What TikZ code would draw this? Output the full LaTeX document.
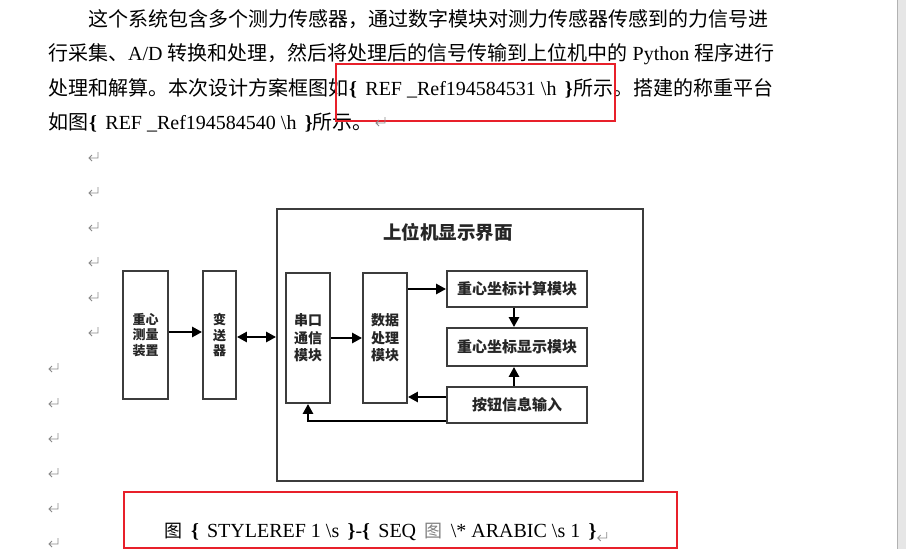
\documentclass[tikz,border=0pt]{standalone}
\usepackage{fontspec}
\setmainfont{Liberation Serif}
\newfontfamily\cjk{Noto Sans CJK SC}
\usetikzlibrary{arrows.meta,calc}
\definecolor{redbox}{HTML}{E8202A}
\definecolor{boxline}{HTML}{3C3C3C}
\definecolor{markgray}{HTML}{8A8A8A}
\definecolor{sidebar}{HTML}{E6E6E6}
\newcommand\zh[1]{{\cjk #1}}
\begin{document}
\begin{tikzpicture}[x=1pt,y=-1pt,
  txt/.style={anchor=base west, inner sep=0pt, font=\fontsize{20}{20}\selectfont},
  txtr/.style={anchor=base east, inner sep=0pt, font=\fontsize{20}{20}\selectfont},
  blk/.style={draw=boxline, line width=1.8pt, inner sep=0pt, align=center, text=black!85},
  vlab/.style={font=\cjk\bfseries\fontsize{14}{17.5}\selectfont},
  slab/.style={font=\cjk\bfseries\fontsize{13}{15.5}\selectfont},
  hlab/.style={font=\cjk\bfseries\fontsize{15}{15}\selectfont},
  tip/.tip={Triangle[length=10pt,width=10pt]},
  arr/.style={line width=2.8pt, -tip},
  darr/.style={line width=2.8pt, tip-tip},
  retm/.pic={\draw[markgray, line width=0.8pt] (10,-5) -- (10,1) -- (1,1) (4,-2) -- (1,1) -- (4,4);},
  fieldbox/.style={draw=redbox, line width=2pt}
]
\useasboundingbox (0,0) rectangle (906,549);
\fill[white] (0,0) rectangle (906,549);
\fill[sidebar] (897,0) rectangle (906,549);
\draw[gray!60, line width=1pt] (897.5,0) -- (897.5,549);

% paragraph
\node[txt] (l1) at (88,26) {\zh{这个系统包含多个测力传感器，通过数字模块对测力传感器传感到的力信号进}};
\node[txt] (l2) at (48,60.5) {\zh{行采集、}A/D \zh{转换和处理，然后将处理后的信号传输到上位机中的} Python \zh{程序进行}};
\node[txt] (l3a) at (48,95) {\zh{处理和解算。本次设计方案框图如}};
\node[txt] (l3b) at (349,95) {\textbf{\{}\, REF \_Ref194584531 \textbackslash h \,\textbf{\}}};
\node[txtr] (l3c) at (774,95) {\zh{所示。搭建的称重平台}};
\node[txt] (l4a) at (48,129.5) {\zh{如图}};
\node[txt] (l4b) at (89,129.5) {\textbf{\{}\, REF \_Ref194584540 \textbackslash h \,\textbf{\}}\zh{所示。}};
\draw[fieldbox] (336,64) rectangle (615,121);

% paragraph marks
\pic at (375,122) {retm};
\foreach \yy in {157,192,227,262,297,332} {\pic at (88,\yy) {retm};}
\foreach \yy in {368,403,438,473,508,543} {\pic at (48,\yy) {retm};}

% diagram
\node[blk, minimum width=366pt, minimum height=272pt] (outer) at (460,345) {};
\node[font=\cjk\bfseries\fontsize{18.5}{18.5}\selectfont, text=black!85] (title) at (448,232) {上位机显示界面};
\node[blk, slab, minimum width=45pt, minimum height=128pt] (zx) at (145.5,335) {重心\\测量\\装置};
\node[blk, slab, minimum width=33pt, minimum height=128pt] (bsq) at (219.5,335) {变\\送\\器};
\node[blk, vlab, minimum width=44pt, minimum height=130pt] (ck) at (308,338) {串口\\通信\\模块};
\node[blk, vlab, minimum width=44pt, minimum height=130pt] (sj) at (385,338) {数据\\处理\\模块};
\node[blk, hlab, minimum width=140pt, minimum height=36pt] (calc) at (517,289) {重心坐标计算模块};
\node[blk, hlab, minimum width=140pt, minimum height=38pt] (disp) at (517,347) {重心坐标显示模块};
\node[blk, hlab, minimum width=140pt, minimum height=36pt] (btn) at (517,405) {按钮信息输入};

\draw[arr] ($(zx.east)+(0,-3)$) -- ($(bsq.west)+(0,-3)$);
\draw[darr] ($(bsq.east)+(0,2)$) -- (outer.west |- 0,337);
\draw[arr] (ck.east) -- (sj.west);
\draw[arr] (sj.east |- calc.west) -- (calc.west);
\draw[arr] ($(calc.south)+(-3,0)$) -- ($(disp.north)+(-3,0)$);
\draw[arr] ($(btn.north)+(-3,0)$) -- ($(disp.south)+(-3,0)$);
\draw[arr] ($(btn.west)+(0,-8)$) -- (sj.east |- 0,397);
\coordinate (fb) at (308,421);
\draw[arr] ($(btn.west)+(0,16)$) -- (fb) -- (ck.south);

% caption
\node[txt] (cap) at (164,537) {{\cjk\fontsize{18}{18}\selectfont 图}\hspace{9pt}\textbf{\{}\hspace{8pt}STYLEREF 1 \textbackslash s \,\textbf{\}}-\textbf{\{}\, SEQ \,{\color{gray}\cjk\fontsize{18}{18}\selectfont 图}\, \textbackslash* ARABIC \textbackslash s 1 \,\textbf{\}}};
\pic at (cap.base east) {retm};
\draw[fieldbox] (124,492) rectangle (677,548);
\end{tikzpicture}
\end{document}
